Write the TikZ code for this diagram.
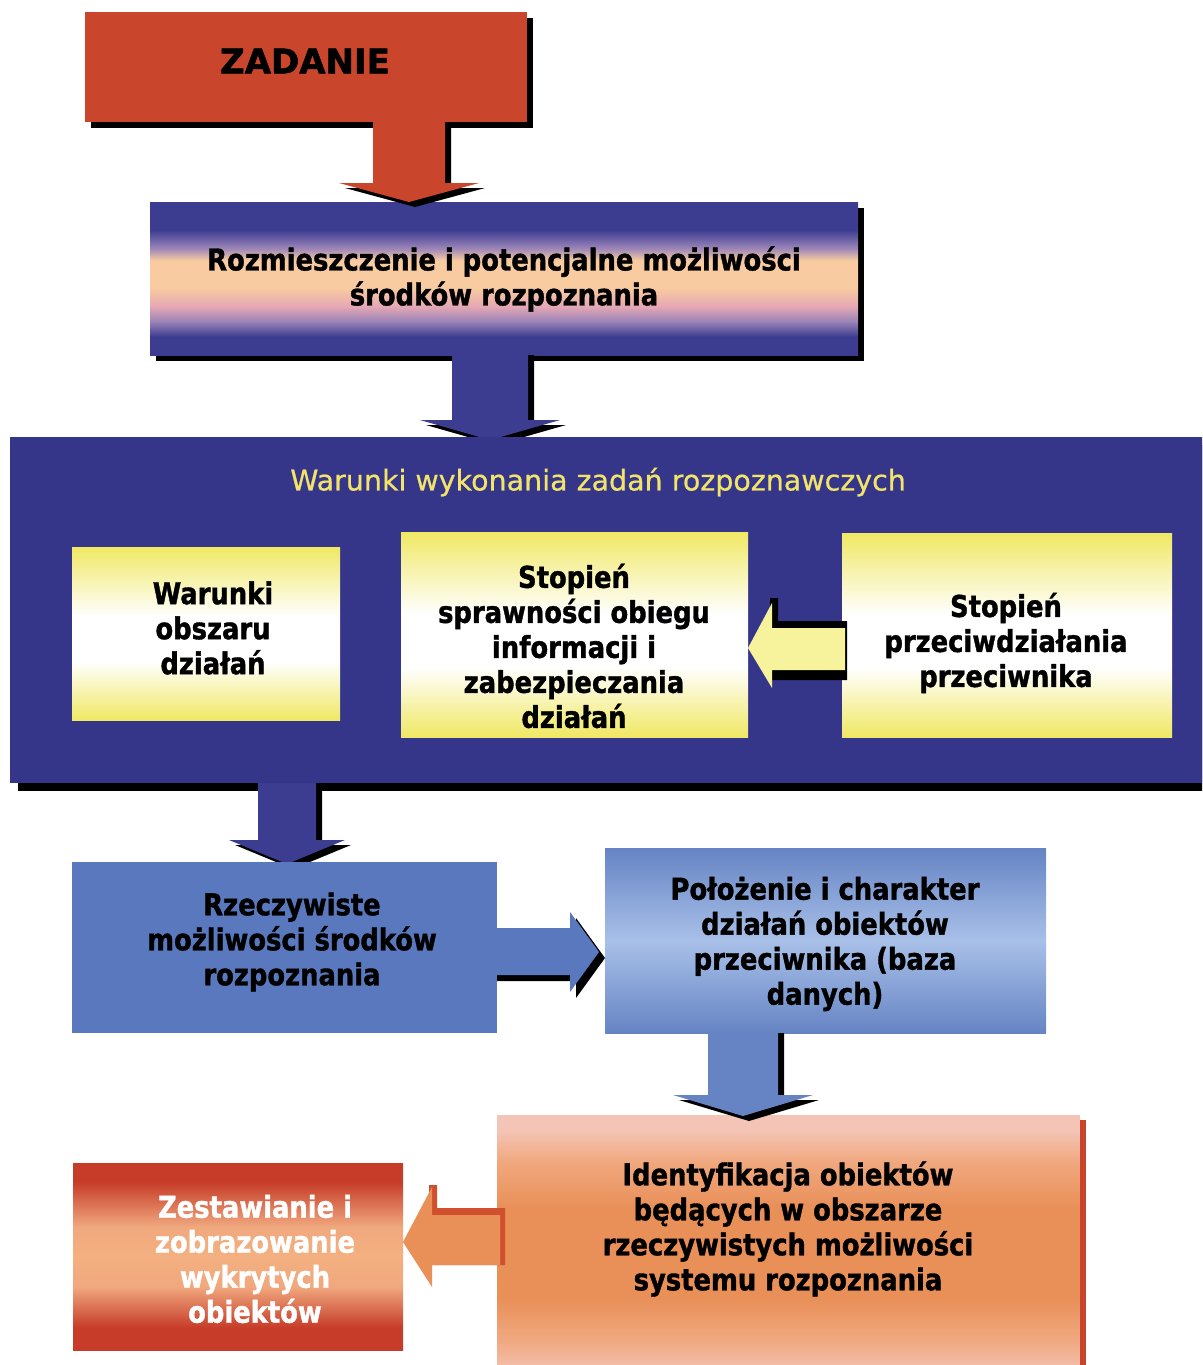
\documentclass[tikz,border=0pt]{standalone}
\usepackage{fontspec}
\setmainfont{DejaVu Sans}[FakeStretch=0.86, BoldFeatures={FakeBold=1.2}]
\newfontfamily\zadfont{DejaVu Sans Bold}[FakeBold=1.5]
\newfontfamily\ttlfont{DejaVu Sans}[FakeBold=0.6]
\usetikzlibrary{calc}
\definecolor{redc}{HTML}{C9452C}
\definecolor{navy}{HTML}{35358A}
\definecolor{navyb}{HTML}{3C3C90}
\definecolor{peach}{HTML}{F8CBA0}
\definecolor{pinkl}{HTML}{E6A8B4}
\definecolor{lilac}{HTML}{9A84B8}
\definecolor{ttl}{HTML}{F2E46A}
\definecolor{yel}{HTML}{F0E864}
\definecolor{yarr}{HTML}{F7F29C}
\definecolor{steel}{HTML}{5A78BE}
\definecolor{steelt}{HTML}{6684C4}
\definecolor{steelm}{HTML}{A8C0E8}
\definecolor{pinkt}{HTML}{F4C4B6}
\definecolor{orng}{HTML}{E98F58}
\definecolor{orngl}{HTML}{F0A87E}
\definecolor{redg}{HTML}{C63C28}
\definecolor{peachg}{HTML}{F4B080}
\definecolor{ashad}{HTML}{D0502E}
\pgfdeclareverticalshading{bandblue}{100bp}{color(0bp)=(navyb); color(25bp)=(navyb); color(31bp)=(navyb); color(36bp)=(lilac); color(41bp)=(pinkl); color(47bp)=(peach); color(56bp)=(peach); color(60bp)=(lilac); color(66bp)=(navyb); color(75bp)=(navyb); color(100bp)=(navyb)}
\pgfdeclareverticalshading{bandorange}{100bp}{color(0bp)=(pinkt); color(25bp)=(pinkt); color(32bp)=(orngl); color(40bp)=(orng); color(57bp)=(orng); color(66bp)=(orngl); color(72bp)=(pinkt); color(75bp)=(pinkt); color(100bp)=(pinkt)}
\pgfdeclareverticalshading{bandred}{100bp}{color(0bp)=(redg); color(25bp)=(redg); color(31bp)=(redg); color(42bp)=(orngl); color(50bp)=(peachg); color(58bp)=(orngl); color(70bp)=(redg); color(75bp)=(redg); color(100bp)=(redg)}
\pgfdeclareverticalshading{bandyel}{100bp}{color(0bp)=(yel); color(25bp)=(yel); color(32bp)=(yel!60!white); color(42bp)=(white); color(55bp)=(white); color(67bp)=(yel!60!white); color(75bp)=(yel); color(100bp)=(yel)}
\tikzset{
  box/.style={rectangle, inner sep=0pt, anchor=north west},
  ybox/.style={box, shading=bandyel},
  txt/.style={align=center, font=\bfseries\fontsize{30}{35}\selectfont, text=black},
}
% down block arrow: xc, ytop, yhead, ytip, stemhalf, headhalf, fill
\newcommand{\dnarrow}[7]{%
  \fill[black] ({#1-#5+6},{#2}) -- ({#1+#5+6},{#2}) -- ({#1+#5+6},{#3+5}) -- ({#1+#6+6},{#3+5}) -- ({#1+6},{#4+5}) -- ({#1-#6+6},{#3+5}) -- ({#1-#5+6},{#3+5}) -- cycle;
  \fill[#7] ({#1-#5},{#2}) -- ({#1+#5},{#2}) -- ({#1+#5},{#3}) -- ({#1+#6},{#3}) -- ({#1},{#4}) -- ({#1-#6},{#3}) -- ({#1-#5},{#3}) -- cycle;}
\begin{document}
\begin{tikzpicture}[x=1pt,y=-1pt]
\useasboundingbox (0,0) rectangle (1202,1365);
\fill[white] (0,0) rectangle (1202,1365);
\clip (0,0) rectangle (1202,1365);

% ZADANIE
\fill[black] (91,18) rectangle (533,128);
\node[box, fill=redc, minimum width=442, minimum height=110] (zad) at (85,12) {};
\node[font=\zadfont\fontsize{34}{40}\selectfont, text=black] (zadt) at (305,61) {ZADANIE};

% box 2
\fill[black] (156,208) rectangle (864,361);
\node[box, shading=bandblue, minimum width=708, minimum height=153] (roz) at (150,202) {};
\node[txt] (rozt) at (504,279) {Rozmieszczenie i potencjalne możliwości\\środków rozpoznania};

% arrows to box2 and box3
\dnarrow{409}{122}{183}{202}{36}{70}{redc}
\dnarrow{490}{355}{420}{440}{38}{70}{navyb}

% big box 3
\fill[black] (18,445) rectangle (1212,791);
\node[box, fill=navy, minimum width=1200, minimum height=346] (war) at (10,437) {};
\node[font=\ttlfont\fontsize{28.5}{30}\selectfont, text=ttl] (wart) at (598,482) {Warunki wykonania zadań rozpoznawczych};

% yellow boxes
\node[ybox, minimum width=268, minimum height=173] (wob) at (72,547) {};
\node[txt] (wobt) at (213,628) {Warunki\\obszaru\\działań};
\node[ybox, minimum width=347, minimum height=205] (spr) at (401,532) {};
\node[txt] (sprt) at (574,646) {Stopień\\sprawności obiegu\\informacji i\\zabezpieczania\\działań};
\node[ybox, minimum width=330, minimum height=204] (prz) at (842,533) {};
\node[txt] (przt) at (1006,643) {Stopień\\przeciwdziałania\\przeciwnika};

% yellow arrow prz -> spr
\fill[black] (847,621) -- (778,621) -- (778,598) -- (770,598) -- (770,680) -- (847,680) -- cycle;
\fill[yarr] (845,628) -- (772,628) -- (772,603) -- (748,648) -- (772,688) -- (772,670) -- (845,670) -- cycle;

% arrow war -> rze
\dnarrow{287}{783}{840}{864}{29}{58}{navyb}

% box D
\node[box, fill=steel, minimum width=425, minimum height=171] (rze) at (72,862) {};
\node[txt] (rzet) at (292,942) {Rzeczywiste\\możliwości środków\\rozpoznania};

% box E
\node[box, top color=steelt, bottom color=steelt, middle color=steelm, minimum width=441, minimum height=185] (pol) at (605,848) {};
\node[txt] (polt) at (825,944) {Położenie i charakter\\działań obiektów\\przeciwnika (baza\\danych)};

% arrow D -> E
\fill[black] (497,934) -- (576,934) -- (576,918) -- (605,958) -- (576,998) -- (576,981) -- (497,981) -- cycle;
\fill[steel] (497,928) -- (570,928) -- (570,912) -- (599,952) -- (570,992) -- (570,975) -- (497,975) -- cycle;

% box F
\node[box, shading=bandorange, minimum width=583, minimum height=260] (ide) at (497,1115) {};
\fill[redg!90!orng] (1080,1120) rectangle (1086,1365);
\node[txt] (idet) at (788,1229) {Identyfikacja obiektów\\będących w obszarze\\rzeczywistych możliwości\\systemu rozpoznania};

% arrow E -> F
\dnarrow{743}{1033}{1095}{1116}{35}{70}{steelt}

% box G
\node[box, shading=bandred, minimum width=330, minimum height=187] (zes) at (73,1163) {};
\node[txt, text=white] (zest) at (255,1259) {Zestawianie i\\zobrazowanie\\wykrytych\\obiektów};

% arrow F -> G
\fill[ashad] (505,1208) -- (437,1208) -- (437,1185) -- (429,1185) -- (429,1265) -- (505,1265) -- cycle;
\fill[orng] (500,1215) -- (432,1215) -- (432,1187) -- (403,1242) -- (432,1287) -- (432,1265) -- (500,1265) -- cycle;
\end{tikzpicture}
\end{document}
